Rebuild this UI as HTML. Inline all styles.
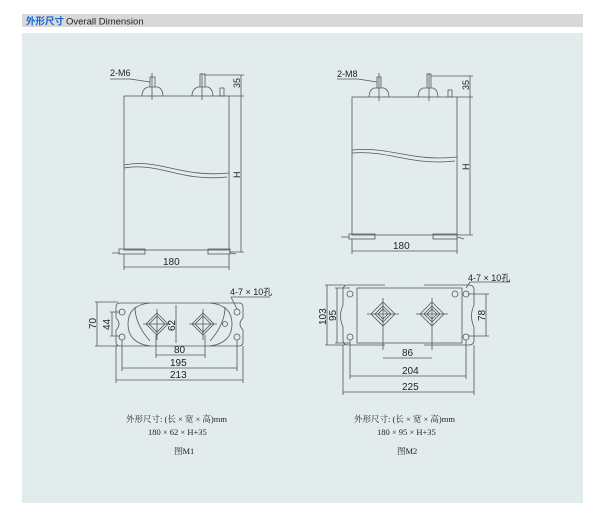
<!DOCTYPE html>
<html><head><meta charset="utf-8"><style>
html,body{margin:0;padding:0;background:#fff;width:600px;height:516px;overflow:hidden}
svg{display:block}
text{font-family:"Liberation Sans","Noto Sans CJK SC",sans-serif;fill:#222}
.s{font-family:"Liberation Serif","Noto Serif CJK SC",serif}
</style></head><body>
<svg width="600" height="516" viewBox="0 0 600 516" xmlns="http://www.w3.org/2000/svg">
<rect x="22" y="14" width="561" height="13" fill="#d8d8d8"/>
<text x="26" y="24.5" font-size="9.5" font-weight="bold" fill="#1a66d6" style="fill:#1a66d6">外形尺寸</text>
<text x="66" y="24.5" font-size="9.5">Overall Dimension</text>
<rect x="22" y="33" width="561" height="470" fill="#e3ecec"/>
<g fill="none" stroke="#555" stroke-width="0.8">
<!-- M1 side -->
<rect x="124" y="96" width="105" height="154"/>
<path d="M124 165 C160 158 180 178 229 173 M124 168 C160 162 180 182 227 177" />
<path d="M142 96 Q142 89 148 87 L158 87 Q163 89 163 96 M192 96 Q192 89 198 87 L208 87 Q213 89 213 96"/>
<path d="M150 87 V77 H155 V87 M200 87 V74 H205 V87 M152 73 V100 M202 73 V100"/>
<rect x="220" y="88" width="4" height="8"/>
<path d="M110 79 H130 L150 82"/>
<path d="M204 75 H244 M229 96 H244 M241 75 V252 M229 252 H244"/>
<rect x="119" y="249" width="26" height="5"/><rect x="208" y="249" width="22" height="5"/>
<path d="M112 253 H119 M230 253 L236 254 M124 254 V270 M229 254 V270 M124 267 H229"/>
<!-- M2 side -->
<rect x="352" y="97" width="105" height="138"/>
<path d="M352 150 C390 146 410 162 457 157 M352 153 C390 150 410 166 455 161"/>
<path d="M369 97 Q369 90 374 88 L384 88 Q389 90 389 97 M418 97 Q418 90 423 88 L433 88 Q438 90 438 97"/>
<path d="M377 88 V77 H381 V88 M427 88 V74 H431 V88 M379 73 V101 M429 73 V101"/>
<rect x="448" y="90" width="4" height="7"/>
<path d="M337 79 H358 L377 82"/>
<path d="M431 76 H473 M457 97 H473 M470 76 V235 M457 235 H473"/>
<rect x="349" y="234" width="26" height="5"/><rect x="433" y="234" width="24" height="5"/>
<path d="M341 237 H349 M457 237 L464 239 M352 239 V254 M457 239 V254 M352 251 H457"/>
<!-- M1 bottom -->
<path d="M150 303 H120 Q116 303 116 307 V318 Q122 324 116 330 V342 Q116 346 120 346 H150"/>
<path d="M210 303 H239 Q243 303 243 307 V318 Q237 324 243 330 V342 Q243 346 239 346 H210"/>
<path d="M150 303 Q128 305 128 324 Q128 343 150 346 H210 Q232 343 232 324 Q232 305 210 303 Z"/>
<path d="M135 307 Q135 324 150 341 M225 307 Q225 324 210 341"/>
<path d="M157 313 L168 324 L157 335 L146 324 Z M203 313 L214 324 L203 335 L192 324 Z"/>
<path d="M157 316 L165 324 L157 332 L149 324 Z M203 316 L211 324 L203 332 L195 324 Z"/>
<path d="M157 309 V340 M143 324 H171 M203 309 V340 M189 324 H217"/>
<circle cx="122" cy="312" r="3"/><circle cx="122" cy="337" r="3"/><circle cx="237" cy="312" r="3"/><circle cx="237" cy="337" r="3"/><circle cx="225" cy="324" r="2.5"/>
<path d="M95 302 H118 M95 346 H118 M97 302 V346 M110 312 H120 M110 336 H120 M112 312 V336"/>
<path d="M176 305 V343"/>
<path d="M156 335 V358 M205 335 V358 M156 355 H205"/>
<path d="M122 340 V371 M237 340 V371 M122 368 H237"/>
<path d="M116 346 V383 M243 346 V383 M116 380 H243"/>
<path d="M231 297 H270 M231 297 L237 309"/>
<!-- M2 bottom -->
<path d="M385 285 H348 Q343 285 343 290 V305 Q338 316 343 327 V340 Q343 345 348 345 H385"/>
<path d="M424 285 H469 Q474 285 474 290 V305 Q469 316 474 327 V340 Q474 345 469 345 H424"/>
<rect x="357" y="288" width="105" height="55"/>
<circle cx="350" cy="294" r="3"/><circle cx="350" cy="337" r="3"/><circle cx="455" cy="294" r="3"/><circle cx="466" cy="294" r="3"/><circle cx="466" cy="337" r="3"/>
<path d="M383 302 L395 314 L383 326 L371 314 Z M432 302 L444 314 L432 326 L420 314 Z"/>
<path d="M383 306 L391 314 L383 322 L375 314 Z M432 306 L440 314 L432 322 L424 314 Z"/>
<path d="M383 309 L388 314 L383 319 L378 314 Z M432 309 L437 314 L432 319 L427 314 Z"/>
<path d="M383 298 V350 M367 314 H399 M432 298 V350 M416 314 H448"/>
<path d="M325 285 H345 M325 345 H345 M327 285 V345 M335 288 H350 M335 343 H350 M337 288 V343"/>
<path d="M468 294 H489 M468 336 H489 M486 294 V336"/>
<path d="M383 358 H432 M350 340 V379 M466 340 V379 M350 376 H466 M343 345 V395 M474 345 V395 M343 392 H474"/>
<path d="M466 288 L470 282 H510"/>
</g>
<g font-size="9">
<text x="110" y="76">2-M6</text>
<text x="163" y="265" font-size="10">180</text>
<text transform="translate(240,88) rotate(-90)" font-size="9">35</text>
<text transform="translate(240,178) rotate(-90)" font-size="9">H</text>
<text x="337" y="77">2-M8</text>
<text x="393" y="249" font-size="10">180</text>
<text transform="translate(469,90) rotate(-90)">35</text>
<text transform="translate(469,170) rotate(-90)">H</text>
<text x="230" y="295">4-7 × 10孔</text>
<text transform="translate(96,329) rotate(-90)" font-size="10">70</text>
<text transform="translate(110,330) rotate(-90)" font-size="10">44</text>
<text transform="translate(175,331) rotate(-90)" font-size="10">62</text>
<text x="174" y="353" font-size="10">80</text>
<text x="170" y="366" font-size="10">195</text>
<text x="170" y="378" font-size="10">213</text>
<text x="468" y="281">4-7 × 10孔</text>
<text transform="translate(326,325) rotate(-90)" font-size="10">103</text>
<text transform="translate(336,321) rotate(-90)" font-size="10">95</text>
<text transform="translate(485,321) rotate(-90)" font-size="10">78</text>
<text x="402" y="356" font-size="10">86</text>
<text x="402" y="374" font-size="10">204</text>
<text x="402" y="390" font-size="10">225</text>
</g>
<g font-size="8.5" class="s">
<text class="s" x="126" y="422">外形尺寸: (长 × 宽 × 高)mm</text>
<text class="s" x="148" y="435">180 × 62 × H+35</text>
<text class="s" x="174" y="454">图M1</text>
<text class="s" x="354" y="422">外形尺寸: (长 × 宽 × 高)mm</text>
<text class="s" x="377" y="435">180 × 95 × H+35</text>
<text class="s" x="397" y="454">图M2</text>
</g>
</svg>
</body></html>
